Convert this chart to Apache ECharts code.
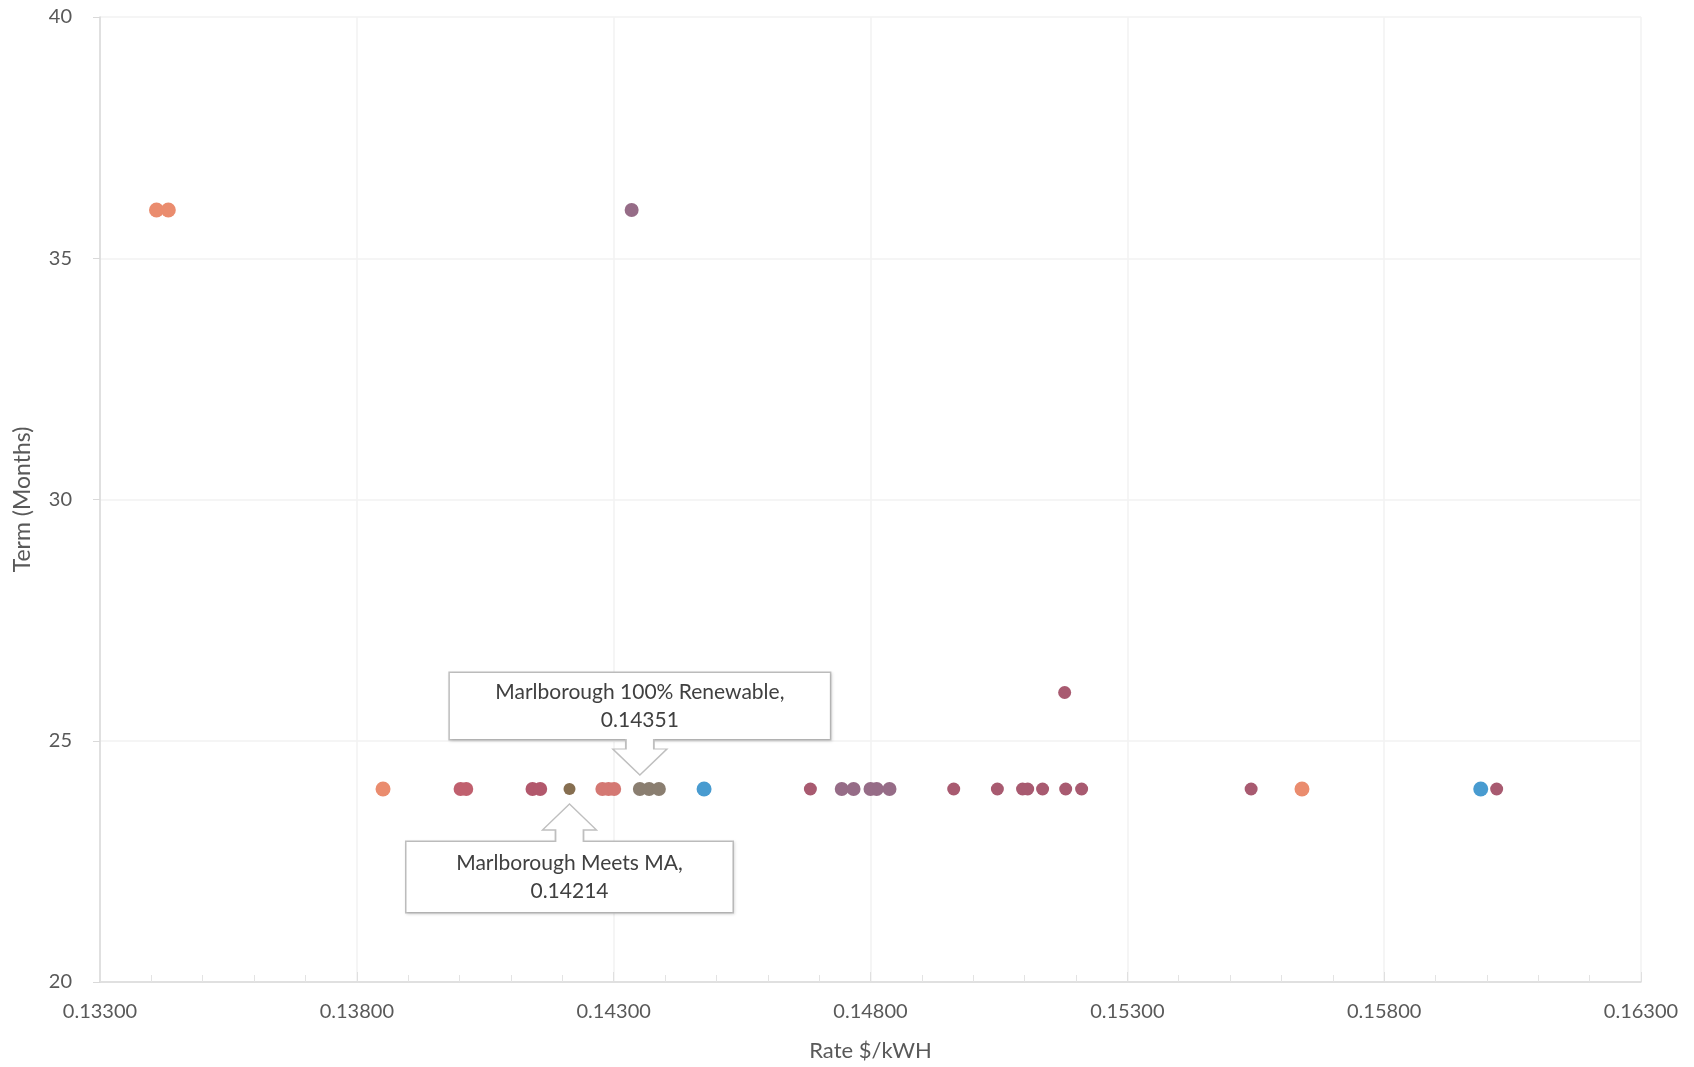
<!DOCTYPE html>
<html>
<head>
<meta charset="utf-8">
<script src="https://cdn.jsdelivr.net/npm/echarts@6/dist/echarts.min.js"></script>
<style>
  html, body { margin: 0; padding: 0; background: #fff; }
  #chart { width: 1694px; height: 1067px; }
</style>
</head>
<body>
<div id="chart"></div>
<script>
// ---- Data: [rate $/kWh, term months] ----
const supplierOrange   = [[0.13410, 36], [0.13433, 36], [0.13851, 24], [0.15640, 24]];
const supplierPink     = [[0.14002, 24], [0.14013, 24]];
const supplierRose     = [[0.14142, 24], [0.14157, 24]];
const marlboroughMeets = [[0.14214, 24]];
const supplierSalmon   = [[0.14278, 24], [0.14290, 24], [0.14301, 24]];
const marlboroughRenew = [[0.14351, 24]];
const supplierTaupe    = [[0.14369, 24], [0.14388, 24]];
const supplierBlue     = [[0.14476, 24], [0.15988, 24]];
const supplierMauve    = [[0.14335, 36], [0.14744, 24], [0.14767, 24], [0.14800, 24], [0.14812, 24], [0.14837, 24]];
const supplierBerry    = [[0.14683, 24], [0.14962, 24], [0.15047, 24], [0.15096, 24], [0.15106, 24], [0.15135, 24],
                          [0.15178, 26], [0.15180, 24], [0.15211, 24], [0.15541, 24], [0.16019, 24]];

const xMin = 0.133, xMax = 0.163, xStep = 0.005;
const yMin = 20, yMax = 40, yStep = 5;
const xTitle = 'Rate $/kWH';
const yTitle = 'Term (Months)';
const renewName = 'Marlborough 100% Renewable';
const meetsName = 'Marlborough Meets MA';

const FONT = 'Lato';
const TEXT = '#595959';

function dots(name, data, color, size) {
  return { name, type: 'scatter', data, symbolSize: size, itemStyle: { color, opacity: 1 } };
}

const calloutLabel = (pos, dist, w, pad) => ({
  show: true, position: pos, distance: dist,
  formatter: p => p.seriesName + ',\n' + p.value[0].toFixed(5),
  fontFamily: FONT, fontSize: 21, lineHeight: 28, color: '#404040',
  backgroundColor: '#fff', borderColor: '#bfbfbf', borderWidth: 1.5,
  width: w, padding: pad, align: 'center',
  shadowColor: 'rgba(0,0,0,0.12)', shadowBlur: 3, shadowOffsetX: 1, shadowOffsetY: 1
});
const arrowStyle = { color: '#fff', borderColor: '#bfbfbf', borderWidth: 1.5 };

const renewSeries = dots(renewName, marlboroughRenew, '#8A7E70', 14);
renewSeries.label = calloutLabel('top', 43, 292, [5, 44, 5, 44]);
renewSeries.markPoint = {
  symbol: 'path://M13,0 L13,10 L0,10 L27,36 L54,10 L41,10 L41,0',
  symbolSize: [54, 36], symbolOffset: [0, -32],
  itemStyle: arrowStyle, label: { show: false },
  data: [{ coord: marlboroughRenew[0] }]
};

const meetsSeries = dots(meetsName, marlboroughMeets, '#866E50', 12);
meetsSeries.label = calloutLabel('bottom', 47, 232, [7, 47, 7, 47]);
meetsSeries.markPoint = {
  symbol: 'path://M13,38 L13,26 L0,26 L27,0 L54,26 L41,26 L41,38',
  symbolSize: [54, 38], symbolOffset: [0, 34],
  itemStyle: arrowStyle, label: { show: false },
  data: [{ coord: marlboroughMeets[0] }]
};

const chart = echarts.init(document.getElementById('chart'));
chart.setOption({
  animation: false,
  backgroundColor: '#fff',
  grid: { left: 100, right: 53, top: 17, bottom: 85, containLabel: false },
  xAxis: {
    type: 'value', min: xMin, max: xMax, interval: xStep,
    name: xTitle, nameLocation: 'middle', nameGap: 58,
    nameTextStyle: { fontFamily: FONT, fontSize: 22, color: TEXT },
    axisLine: { show: true, lineStyle: { color: '#d9d9d9', width: 1.5 } },
    axisTick: { show: true, inside: true, length: 10, lineStyle: { color: '#e0e0e0' } },
    minorTick: { show: true, splitNumber: 5, length: 7, lineStyle: { color: '#e3e3e3' } },
    axisLabel: { fontFamily: FONT, fontSize: 20, color: TEXT, margin: 20,
                 formatter: v => v.toFixed(5) },
    splitLine: { show: true, lineStyle: { color: '#f2f2f2', width: 1.5 } }
  },
  yAxis: {
    type: 'value', min: yMin, max: yMax, interval: yStep,
    name: yTitle, nameLocation: 'middle', nameGap: 66, nameRotate: 90,
    nameTextStyle: { fontFamily: FONT, fontSize: 23, color: TEXT },
    axisLine: { show: true, lineStyle: { color: '#d9d9d9', width: 1.5 } },
    axisTick: { show: true, inside: false, length: 7, lineStyle: { color: '#d9d9d9' } },
    axisLabel: { fontFamily: FONT, fontSize: 20, color: TEXT, margin: 28 },
    splitLine: { show: true, lineStyle: { color: '#f2f2f2', width: 1.5 } }
  },
  series: [
    dots('Supplier Orange', supplierOrange, '#EA8C6E', 15),
    dots('Supplier Pink', supplierPink, '#C0606E', 14),
    dots('Supplier Rose', supplierRose, '#B2586C', 14),
    dots('Supplier Salmon', supplierSalmon, '#D47873', 14),
    dots('Supplier Taupe', supplierTaupe, '#8A7E70', 14),
    dots('Supplier Blue', supplierBlue, '#489BD0', 15),
    dots('Supplier Mauve', supplierMauve, '#966C87', 14),
    dots('Supplier Berry', supplierBerry, '#A85A70', 13),
    meetsSeries,
    renewSeries
  ]
});
</script>
</body>
</html>
